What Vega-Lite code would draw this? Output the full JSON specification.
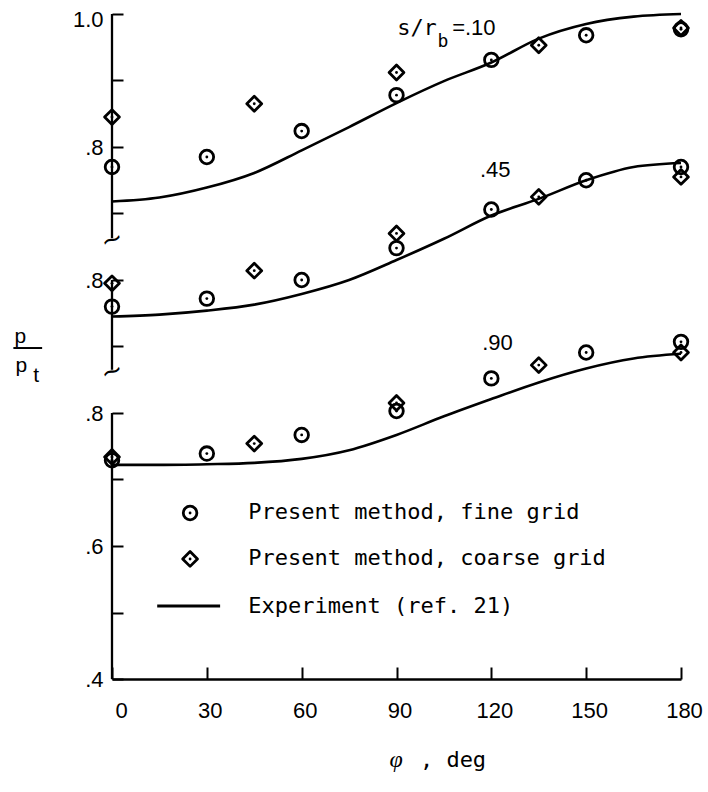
{
  "$schema": "https://vega.github.io/schema/vega-lite/v6.json",
  "width": 569,
  "height": 665,
  "autosize": {"type": "none"},
  "padding": {"left": 112, "top": 14, "right": 27, "bottom": 113},
  "background": "white",
  "config": {"view": {"stroke": null}, "font": "Liberation Sans"},
  "data": {"values": [{}]},
  "datasets": {
    "series": [
      {"s": ".10", "offset": 0.4},
      {"s": ".45", "offset": 0.2},
      {"s": ".90", "offset": 0.0}
    ],
    "points": [
      {"s": ".10", "method": "fine", "phi": 0, "p": 0.770},
      {"s": ".10", "method": "fine", "phi": 30, "p": 0.785},
      {"s": ".10", "method": "fine", "phi": 60, "p": 0.824},
      {"s": ".10", "method": "fine", "phi": 90, "p": 0.878},
      {"s": ".10", "method": "fine", "phi": 120, "p": 0.931},
      {"s": ".10", "method": "fine", "phi": 150, "p": 0.968},
      {"s": ".10", "method": "fine", "phi": 180, "p": 0.977},
      {"s": ".10", "method": "coarse", "phi": 0, "p": 0.845},
      {"s": ".10", "method": "coarse", "phi": 45, "p": 0.865},
      {"s": ".10", "method": "coarse", "phi": 90, "p": 0.912},
      {"s": ".10", "method": "coarse", "phi": 135, "p": 0.953},
      {"s": ".10", "method": "coarse", "phi": 180, "p": 0.979},
      {"s": ".45", "method": "fine", "phi": 0, "p": 0.760},
      {"s": ".45", "method": "fine", "phi": 30, "p": 0.772},
      {"s": ".45", "method": "fine", "phi": 60, "p": 0.800},
      {"s": ".45", "method": "fine", "phi": 90, "p": 0.848},
      {"s": ".45", "method": "fine", "phi": 120, "p": 0.906},
      {"s": ".45", "method": "fine", "phi": 150, "p": 0.950},
      {"s": ".45", "method": "fine", "phi": 180, "p": 0.970},
      {"s": ".45", "method": "coarse", "phi": 0, "p": 0.795},
      {"s": ".45", "method": "coarse", "phi": 45, "p": 0.814},
      {"s": ".45", "method": "coarse", "phi": 90, "p": 0.870},
      {"s": ".45", "method": "coarse", "phi": 135, "p": 0.925},
      {"s": ".45", "method": "coarse", "phi": 180, "p": 0.955},
      {"s": ".90", "method": "fine", "phi": 0, "p": 0.729},
      {"s": ".90", "method": "fine", "phi": 30, "p": 0.739},
      {"s": ".90", "method": "fine", "phi": 60, "p": 0.767},
      {"s": ".90", "method": "fine", "phi": 90, "p": 0.803},
      {"s": ".90", "method": "fine", "phi": 120, "p": 0.852},
      {"s": ".90", "method": "fine", "phi": 150, "p": 0.891},
      {"s": ".90", "method": "fine", "phi": 180, "p": 0.907},
      {"s": ".90", "method": "coarse", "phi": 0, "p": 0.734},
      {"s": ".90", "method": "coarse", "phi": 45, "p": 0.754},
      {"s": ".90", "method": "coarse", "phi": 90, "p": 0.815},
      {"s": ".90", "method": "coarse", "phi": 135, "p": 0.872},
      {"s": ".90", "method": "coarse", "phi": 180, "p": 0.891}
    ],
    "curves": [
      {"s": ".10", "phi": 0, "p": 0.718},
      {"s": ".10", "phi": 15, "p": 0.724},
      {"s": ".10", "phi": 30, "p": 0.739},
      {"s": ".10", "phi": 45, "p": 0.761},
      {"s": ".10", "phi": 60, "p": 0.795},
      {"s": ".10", "phi": 75, "p": 0.830},
      {"s": ".10", "phi": 90, "p": 0.866},
      {"s": ".10", "phi": 105, "p": 0.899},
      {"s": ".10", "phi": 120, "p": 0.927},
      {"s": ".10", "phi": 135, "p": 0.963},
      {"s": ".10", "phi": 150, "p": 0.985},
      {"s": ".10", "phi": 165, "p": 0.996},
      {"s": ".10", "phi": 180, "p": 1.0},
      {"s": ".45", "phi": 0, "p": 0.745},
      {"s": ".45", "phi": 15, "p": 0.748},
      {"s": ".45", "phi": 30, "p": 0.754},
      {"s": ".45", "phi": 45, "p": 0.763},
      {"s": ".45", "phi": 60, "p": 0.779},
      {"s": ".45", "phi": 75, "p": 0.800},
      {"s": ".45", "phi": 90, "p": 0.830},
      {"s": ".45", "phi": 105, "p": 0.862},
      {"s": ".45", "phi": 120, "p": 0.897},
      {"s": ".45", "phi": 135, "p": 0.922},
      {"s": ".45", "phi": 150, "p": 0.950},
      {"s": ".45", "phi": 165, "p": 0.970},
      {"s": ".45", "phi": 180, "p": 0.976},
      {"s": ".90", "phi": 0, "p": 0.722},
      {"s": ".90", "phi": 15, "p": 0.722},
      {"s": ".90", "phi": 30, "p": 0.723},
      {"s": ".90", "phi": 45, "p": 0.725},
      {"s": ".90", "phi": 60, "p": 0.731},
      {"s": ".90", "phi": 75, "p": 0.744},
      {"s": ".90", "phi": 90, "p": 0.767},
      {"s": ".90", "phi": 105, "p": 0.795},
      {"s": ".90", "phi": 120, "p": 0.821},
      {"s": ".90", "phi": 135, "p": 0.846},
      {"s": ".90", "phi": 150, "p": 0.867},
      {"s": ".90", "phi": 165, "p": 0.882},
      {"s": ".90", "phi": 180, "p": 0.889}
    ]
  },
  "layer": [
    {
      "data": {"name": "curves"},
      "transform": [
        {"lookup": "s", "from": {"data": {"name": "series"}, "key": "s", "fields": ["offset"]}},
        {"calculate": "datum.p + datum.offset", "as": "Y"}
      ],
      "mark": {"type": "line", "interpolate": "monotone", "color": "black", "strokeWidth": 2.6},
      "encoding": {
        "x": {
          "field": "phi", "type": "quantitative",
          "scale": {"domain": [0, 180], "nice": false, "zero": false},
          "axis": {
            "values": [0, 30, 60, 90, 120, 150, 180],
            "title": null, "grid": false,
            "domainColor": "black", "domainWidth": 2.3,
            "tickColor": "black", "tickWidth": 2, "tickSize": -12,
            "labelFont": "Liberation Sans", "labelFontSize": 22, "labelColor": "black",
            "labelPadding": 33, "labelFlush": false, "labelOffset": 3,
            "labelAlign": {"condition": {"test": "datum.value === 0", "value": "left"}, "value": "center"}
          }
        },
        "y": {
          "field": "Y", "type": "quantitative",
          "scale": {"domain": [0.4, 1.4], "nice": false, "zero": false},
          "axis": {
            "values": [0.4, 0.5, 0.6, 0.7, 0.8, 0.9, 1.0, 1.1, 1.2, 1.3, 1.4],
            "title": null, "grid": false, "domain": false,
            "tickColor": "black", "tickWidth": 2, "tickSize": -11,
            "labelFont": "Liberation Sans", "labelFontSize": 22, "labelColor": "black",
            "labelPadding": 20, "labelFlush": false,
            "labelOffset": {"condition": {"test": "datum.value > 1.35", "value": 5}, "value": 0},
            "labelExpr": "datum.value > 1.35 ? '1.0' : (abs(datum.value-1.2)<0.01 || abs(datum.value-1.0)<0.01 || abs(datum.value-0.8)<0.01) ? '.8' : abs(datum.value-0.6)<0.01 ? '.6' : abs(datum.value-0.4)<0.01 ? '.4' : ''"
          }
        },
        "detail": {"field": "s"}
      }
    },
    {
      "data": {"name": "points"},
      "transform": [
        {"filter": "datum.method === 'fine'"},
        {"lookup": "s", "from": {"data": {"name": "series"}, "key": "s", "fields": ["offset"]}},
        {"calculate": "datum.p + datum.offset", "as": "Y"}
      ],
      "mark": {"type": "point", "shape": "circle", "filled": false, "size": 185, "strokeWidth": 2.8, "color": "black", "opacity": 1},
      "encoding": {
        "x": {"field": "phi", "type": "quantitative"},
        "y": {"field": "Y", "type": "quantitative"}
      }
    },
    {
      "data": {"name": "points"},
      "transform": [
        {"filter": "datum.method === 'coarse'"},
        {"lookup": "s", "from": {"data": {"name": "series"}, "key": "s", "fields": ["offset"]}},
        {"calculate": "datum.p + datum.offset", "as": "Y"}
      ],
      "mark": {"type": "point", "shape": "diamond", "filled": false, "size": 220, "strokeWidth": 2.8, "color": "black", "opacity": 1, "strokeJoin": "round"},
      "encoding": {
        "x": {"field": "phi", "type": "quantitative"},
        "y": {"field": "Y", "type": "quantitative"}
      }
    },
    {
      "data": {"name": "points"},
      "transform": [
        {"lookup": "s", "from": {"data": {"name": "series"}, "key": "s", "fields": ["offset"]}},
        {"calculate": "datum.p + datum.offset", "as": "Y"}
      ],
      "mark": {"type": "circle", "size": 8, "color": "black", "opacity": 1},
      "encoding": {
        "x": {"field": "phi", "type": "quantitative"},
        "y": {"field": "Y", "type": "quantitative"}
      }
    },
    {
      "mark": {"type": "rule", "color": "black", "strokeWidth": 2.3},
      "encoding": {"x": {"datum": 0, "type": "quantitative"}, "y": {"datum": 1.4, "type": "quantitative"}, "y2": {"datum": 1.063}}
    },
    {
      "mark": {"type": "rule", "color": "black", "strokeWidth": 2.3},
      "encoding": {"x": {"datum": 0, "type": "quantitative"}, "y": {"datum": 1.0, "type": "quantitative"}, "y2": {"datum": 0.865}}
    },
    {
      "mark": {"type": "rule", "color": "black", "strokeWidth": 2.3},
      "encoding": {"x": {"datum": 0, "type": "quantitative"}, "y": {"datum": 0.8, "type": "quantitative"}, "y2": {"datum": 0.4}}
    },
    {
      "mark": {"type": "text", "text": "~", "font": "DejaVu Sans", "fontSize": 26, "angle": -20, "align": "center", "baseline": "middle", "color": "black"},
      "encoding": {"x": {"datum": 0, "type": "quantitative"}, "y": {"datum": 1.06, "type": "quantitative"}}
    },
    {
      "mark": {"type": "text", "text": "~", "font": "DejaVu Sans", "fontSize": 26, "angle": -20, "align": "center", "baseline": "middle", "color": "black"},
      "encoding": {"x": {"datum": 0, "type": "quantitative"}, "y": {"datum": 0.862, "type": "quantitative"}}
    },
    {
      "mark": {"type": "point", "shape": "circle", "filled": false, "size": 185, "strokeWidth": 2.8, "color": "black", "opacity": 1},
      "encoding": {"x": {"datum": 24.7, "type": "quantitative"}, "y": {"datum": 0.6496, "type": "quantitative"}}
    },
    {
      "mark": {"type": "point", "shape": "diamond", "filled": false, "size": 220, "strokeWidth": 2.8, "color": "black", "opacity": 1, "strokeJoin": "round"},
      "encoding": {"x": {"datum": 24.7, "type": "quantitative"}, "y": {"datum": 0.5805, "type": "quantitative"}}
    },
    {
      "mark": {"type": "circle", "size": 8, "color": "black", "opacity": 1},
      "encoding": {"x": {"datum": 24.7, "type": "quantitative"}, "y": {"datum": 0.6496, "type": "quantitative"}}
    },
    {
      "mark": {"type": "circle", "size": 8, "color": "black", "opacity": 1},
      "encoding": {"x": {"datum": 24.7, "type": "quantitative"}, "y": {"datum": 0.5805, "type": "quantitative"}}
    },
    {
      "mark": {"type": "rule", "color": "black", "strokeWidth": 3},
      "encoding": {"x": {"datum": 14.3, "type": "quantitative"}, "x2": {"datum": 34.2}, "y": {"datum": 0.5098, "type": "quantitative"}}
    },
    {
      "mark": {"type": "text", "text": "Present method, fine grid", "font": "DejaVu Sans Mono", "fontSize": 22, "align": "left", "baseline": "middle", "color": "black"},
      "encoding": {"x": {"datum": 43.1, "type": "quantitative"}, "y": {"datum": 0.6511, "type": "quantitative"}}
    },
    {
      "mark": {"type": "text", "text": "Present method, coarse grid", "font": "DejaVu Sans Mono", "fontSize": 22, "align": "left", "baseline": "middle", "color": "black"},
      "encoding": {"x": {"datum": 43.1, "type": "quantitative"}, "y": {"datum": 0.5820, "type": "quantitative"}}
    },
    {
      "mark": {"type": "text", "text": "Experiment (ref. 21)", "font": "DejaVu Sans Mono", "fontSize": 22, "align": "left", "baseline": "middle", "color": "black"},
      "encoding": {"x": {"datum": 43.1, "type": "quantitative"}, "y": {"datum": 0.5100, "type": "quantitative"}}
    },
    {
      "mark": {"type": "text", "text": "s/r", "font": "DejaVu Sans Mono", "fontSize": 22, "align": "left", "baseline": "alphabetic", "color": "black"},
      "encoding": {"x": {"datum": 90.2, "type": "quantitative"}, "y": {"datum": 1.3684, "type": "quantitative"}}
    },
    {
      "mark": {"type": "text", "text": "b", "font": "DejaVu Sans Mono", "fontSize": 18, "align": "left", "baseline": "alphabetic", "color": "black"},
      "encoding": {"x": {"datum": 103.0, "type": "quantitative"}, "y": {"datum": 1.350, "type": "quantitative"}}
    },
    {
      "mark": {"type": "text", "text": "=.10", "font": "Liberation Sans", "fontSize": 22, "align": "left", "baseline": "alphabetic", "color": "black"},
      "encoding": {"x": {"datum": 107.6, "type": "quantitative"}, "y": {"datum": 1.3684, "type": "quantitative"}}
    },
    {
      "mark": {"type": "text", "text": ".45", "font": "Liberation Sans", "fontSize": 22, "align": "left", "baseline": "alphabetic", "color": "black"},
      "encoding": {"x": {"datum": 116.4, "type": "quantitative"}, "y": {"datum": 1.1549, "type": "quantitative"}}
    },
    {
      "mark": {"type": "text", "text": ".90", "font": "Liberation Sans", "fontSize": 22, "align": "left", "baseline": "alphabetic", "color": "black"},
      "encoding": {"x": {"datum": 117.1, "type": "quantitative"}, "y": {"datum": 0.8947, "type": "quantitative"}}
    },
    {
      "mark": {"type": "text", "text": "p", "font": "Liberation Sans", "fontSize": 21, "align": "center", "baseline": "alphabetic", "color": "black"},
      "encoding": {"x": {"datum": -29.0, "type": "quantitative"}, "y": {"datum": 0.905, "type": "quantitative"}}
    },
    {
      "mark": {"type": "rule", "color": "black", "strokeWidth": 2},
      "encoding": {"x": {"datum": -31.2, "type": "quantitative"}, "x2": {"datum": -22.1}, "y": {"datum": 0.8977, "type": "quantitative"}}
    },
    {
      "mark": {"type": "text", "text": "p", "font": "Liberation Sans", "fontSize": 21, "align": "center", "baseline": "alphabetic", "color": "black"},
      "encoding": {"x": {"datum": -28.7, "type": "quantitative"}, "y": {"datum": 0.8617, "type": "quantitative"}}
    },
    {
      "mark": {"type": "text", "text": "t", "font": "Liberation Sans", "fontSize": 21, "align": "center", "baseline": "alphabetic", "color": "black"},
      "encoding": {"x": {"datum": -24.0, "type": "quantitative"}, "y": {"datum": 0.8466, "type": "quantitative"}}
    },
    {
      "mark": {"type": "text", "text": "φ", "font": "Liberation Serif", "fontStyle": "italic", "fontSize": 24, "align": "center", "baseline": "middle", "color": "black"},
      "encoding": {"x": {"datum": 89.9, "type": "quantitative"}, "y": {"datum": 0.278, "type": "quantitative"}}
    },
    {
      "mark": {"type": "text", "text": ", deg", "font": "DejaVu Sans Mono", "fontSize": 22, "align": "left", "baseline": "middle", "color": "black"},
      "encoding": {"x": {"datum": 97.4, "type": "quantitative"}, "y": {"datum": 0.278, "type": "quantitative"}}
    }
  ]
}
